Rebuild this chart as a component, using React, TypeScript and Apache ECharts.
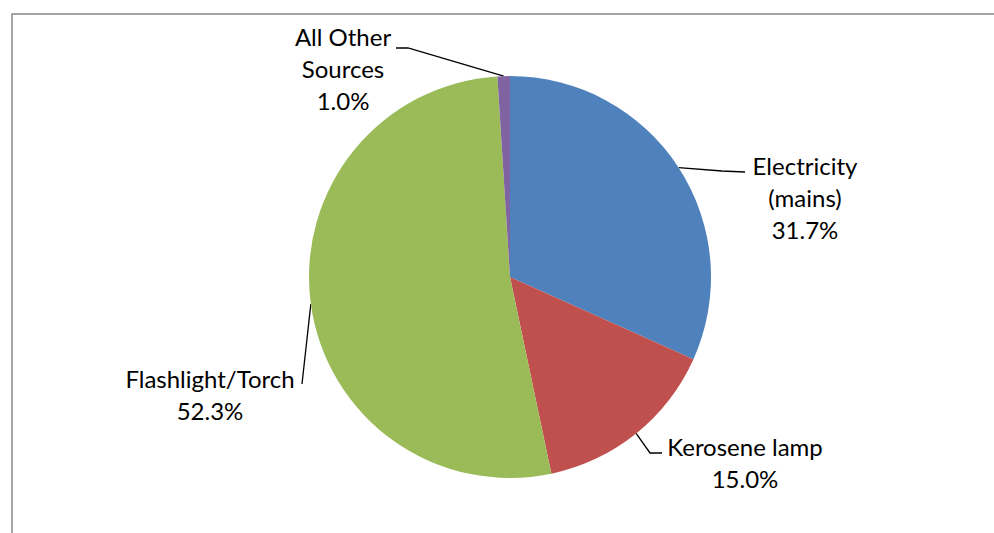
import React, { useEffect, useRef } from "react";
import * as echarts from "echarts";

const categories = ["Electricity\n(mains)", "Kerosene lamp", "Flashlight/Torch", "All Other\nSources"];
const shares = [31.7, 15.0, 52.3, 1.0];
const colors = ["#4F81BD", "#C0504D", "#9BBB59", "#8064A2"];

// label layout (center of text block) and leader-line bend points per slice
const labelPos = [
  { x: 805, y: 197, bend: [[722, 171], [745, 172]] },
  { x: 745, y: 462, bend: [[650, 453], [662, 453]] },
  { x: 210, y: 394, bend: [[302, 384], [302, 384]] },
  { x: 343, y: 68, bend: [[408, 48], [396, 48]] },
];

export default function App() {
  const ref = useRef<HTMLDivElement>(null);
  useEffect(() => {
    document.body.style.margin = "0";
    const chart = echarts.init(ref.current!, null, { renderer: "svg" });
    chart.setOption({
      animation: false,
      backgroundColor: "#ffffff",
      graphic: [
        {
          type: "rect",
          shape: { x: 12, y: 14, width: 1000, height: 600 },
          style: { fill: "none", stroke: "#888888", lineWidth: 1.5 },
          silent: true,
        },
      ],
      series: [
        {
          type: "pie",
          center: [510, 277],
          radius: 201,
          startAngle: 90,
          clockwise: true,
          data: categories.map((c, i) => ({ name: c, value: shares[i], itemStyle: { color: colors[i] } })),
          label: {
            show: true,
            formatter: (p: any) => `${p.name}\n${p.value.toFixed(1)}%`,
            fontFamily: "Lato, 'Open Sans', sans-serif",
            fontSize: 24,
            lineHeight: 32,
            color: "#000000",
            align: "center",
          },
          labelLine: { show: true, lineStyle: { color: "#000000", width: 1.3 } },
          labelLayout: (params: any) => {
            const lp = labelPos[params.dataIndex];
            const anchor = params.labelLinePoints ? params.labelLinePoints[0] : lp.bend[0];
            return {
              x: lp.x,
              y: lp.y,
              align: "center",
              verticalAlign: "middle",
              labelLinePoints: [anchor, lp.bend[0], lp.bend[1]],
            };
          },
          emphasis: { disabled: true },
        },
      ],
    });
    return () => chart.dispose();
  }, []);
  return <div ref={ref} style={{ position: "fixed", left: 0, top: 0, width: 994, height: 533 }} />;
}
